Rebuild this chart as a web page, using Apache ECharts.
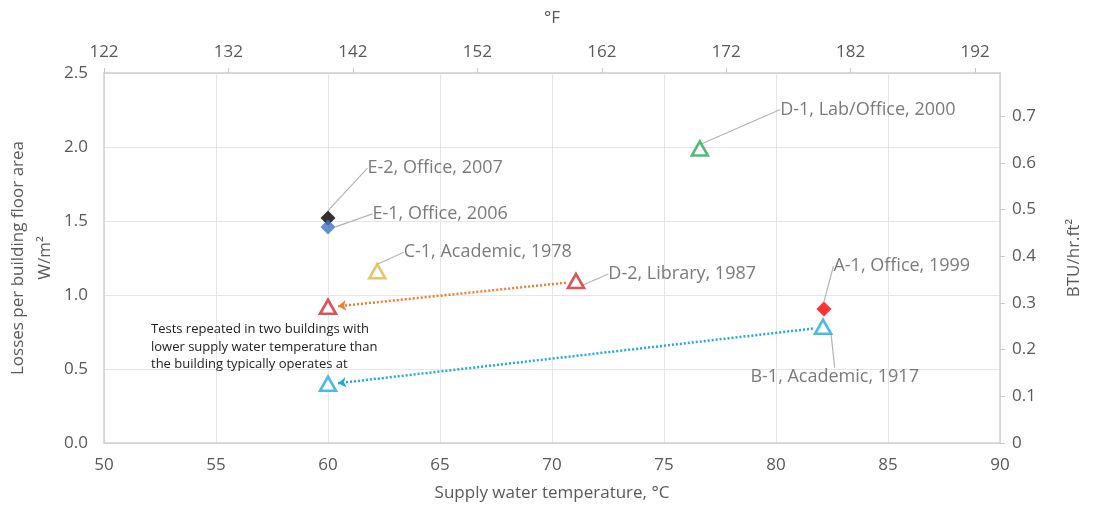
<!DOCTYPE html>
<html>
<head>
<meta charset="utf-8">
<script src="https://cdn.jsdelivr.net/npm/echarts@6/dist/echarts.min.js"></script>
<style>
  html, body { margin: 0; padding: 0; background: #fff; }
  #chart { width: 1095px; height: 514px; }
</style>
</head>
<body>
<div id="chart"></div>
<script>
// building test points (supply temp in degC, losses in W/m2)
const pointNames = ['E-2, Office, 2007', 'E-1, Office, 2006', 'C-1, Academic, 1978', 'D-2, Library, 1987',
	'', 'D-1, Lab/Office, 2000', 'A-1, Office, 1999', 'B-1, Academic, 1917', ''];
const supplyTempC = [60, 60, 62.2, 71.07, 60, 76.6, 82.14, 82.1, 60];
const lossesWm2 = [1.52, 1.46, 1.16, 1.095, 0.92, 1.99, 0.905, 0.785, 0.40];

// repeated tests: [from index, to index]
const retestPairs = [[3, 4], [7, 8]];

// top axis in degF, ticks start at 122
const fahrenheitStart = 122;
const fahrenheitSpan = 72; // 50..90 degC -> 122..194 degF
const wToBtu = 0.317;

// styles per point
const markerShape = ['diamond', 'diamond', 'triangle', 'triangle', 'triangle', 'triangle', 'diamond', 'triangle', 'triangle'];
const markerColor = ['#000000', '#4472c4', '#dcb54e', '#d3282e', '#d3282e', '#27a85a', '#ff0000', '#1fa9e1', '#1fa9e1'];
const labelShift = [[27, -50], [32, -13], [12, -19], [18, -7], [0, 0], [66, -39], [-3, -43], [-87, 50], [0, 0]];
const arrowColor = ['#ed7d31', '#1fa9e1'];

const tickFont = '"Open Sans", sans-serif';
const textFont = '"Open Sans", "Liberation Sans", sans-serif';
const gray = '#595959';

const chart = echarts.init(document.getElementById('chart'));

const scatterData = supplyTempC.map((t, i) => {
	const hollow = markerShape[i] === 'triangle';
	return {
		name: pointNames[i],
		value: [t, lossesWm2[i]],
		symbol: markerShape[i],
		symbolSize: hollow ? [16, 14] : 15,
		itemStyle: hollow
			? { color: '#ffffff', borderColor: markerColor[i], borderWidth: 2.6 }
			: { color: markerColor[i], borderColor: markerColor[i], borderWidth: 0 },
		label: { show: pointNames[i] !== '' }
	};
});

const arrowData = retestPairs.map(([a, b], k) => ({
	coords: [
		[supplyTempC[a] - 0.45, lossesWm2[a] - 0.012],
		[supplyTempC[b] + 0.45, lossesWm2[b] + 0.004]
	],
	lineStyle: { color: arrowColor[k] }
}));

const axisLine = { show: true, onZero: false, lineStyle: { color: '#d0d0d0', width: 1.5 } };

// rotated left axis title, two lines
const leftTitle = (text, x) => ({
	type: 'text', x: x, y: 258, rotation: Math.PI / 2, z: 10,
	style: { text: text, fontFamily: textFont, fontSize: 17, fill: gray, align: 'center', verticalAlign: 'middle' }
});

chart.setOption({
	animation: false,
	grid: { left: 104, right: 95, top: 73, bottom: 71, outerBoundsMode: 'none', containLabel: false },
	xAxis: [
		{
			type: 'value', position: 'bottom', min: 50, max: 90, interval: 5,
			name: 'Supply water temperature, °C', nameLocation: 'middle', nameGap: 42,
			nameTextStyle: { fontFamily: tickFont, fontSize: 17, color: gray },
			axisLine: axisLine,
			axisTick: { show: false },
			axisLabel: { fontFamily: tickFont, fontSize: 17, color: gray, margin: 14 },
			splitLine: { show: true, lineStyle: { color: '#e6e6e6' } }
		},
		{
			type: 'value', position: 'top', min: 0, max: fahrenheitSpan, interval: 10,
			name: '°F', nameLocation: 'middle', nameGap: 46,
			nameTextStyle: { fontFamily: tickFont, fontSize: 17, color: gray },
			axisLine: axisLine,
			axisTick: { show: true, inside: false, length: 5, lineStyle: { color: '#c8c8c8' } },
			axisLabel: {
				fontFamily: tickFont, fontSize: 17, color: gray, margin: 12, showMaxLabel: false,
				formatter: v => String(v + fahrenheitStart)
			},
			splitLine: { show: false }
		}
	],
	yAxis: [
		{
			type: 'value', position: 'left', min: 0, max: 2.5, interval: 0.5,
			axisLine: axisLine,
			axisTick: { show: false },
			axisLabel: { fontFamily: tickFont, fontSize: 17, color: gray, margin: 16, formatter: v => v.toFixed(1) },
			splitLine: { show: true, lineStyle: { color: '#e6e6e6' } }
		},
		{
			type: 'value', position: 'right', min: 0, max: 2.5 * wToBtu, interval: 0.1,
			name: 'BTU/hr.ft²', nameLocation: 'middle', nameGap: 66, nameRotate: 90,
			nameTextStyle: { fontFamily: textFont, fontSize: 17, color: gray },
			axisLine: axisLine,
			axisTick: { show: true, length: 5, lineStyle: { color: '#c8c8c8' } },
			axisLabel: {
				fontFamily: textFont, fontSize: 17, color: gray, margin: 12, showMaxLabel: false,
				formatter: v => (v === 0 ? '0' : v.toFixed(1))
			},
			splitLine: { show: false }
		}
	],
	series: [
		{
			type: 'lines',
			coordinateSystem: 'cartesian2d',
			xAxisIndex: 0, yAxisIndex: 0,
			symbol: ['none', 'arrow'],
			symbolSize: 8,
			lineStyle: { width: 2.5, type: [2, 2], opacity: 1 },
			data: arrowData,
			z: 2
		},
		{
			type: 'scatter',
			xAxisIndex: 0, yAxisIndex: 0,
			data: scatterData,
			label: {
				position: 'right', distance: 5,
				fontFamily: textFont, fontSize: 18, color: gray,
				formatter: p => p.name
			},
			labelLine: { show: true, lineStyle: { color: '#b4b4b4', width: 1.2 } },
			labelLayout: p => ({ dx: labelShift[p.dataIndex][0], dy: labelShift[p.dataIndex][1] }),
			z: 3
		}
	],
	graphic: [
		leftTitle('Losses per building floor area', 18),
		leftTitle('W/m²', 45),
		{
			type: 'text', left: 151, top: 321, z: 10,
			style: {
				text: 'Tests repeated in two buildings with\nlower supply water temperature than\nthe building typically operates at',
				fontFamily: textFont, fontSize: 13, lineHeight: 17.5, fill: '#222222'
			}
		}
	]
});

window.addEventListener('resize', () => chart.resize());
</script>
</body>
</html>
